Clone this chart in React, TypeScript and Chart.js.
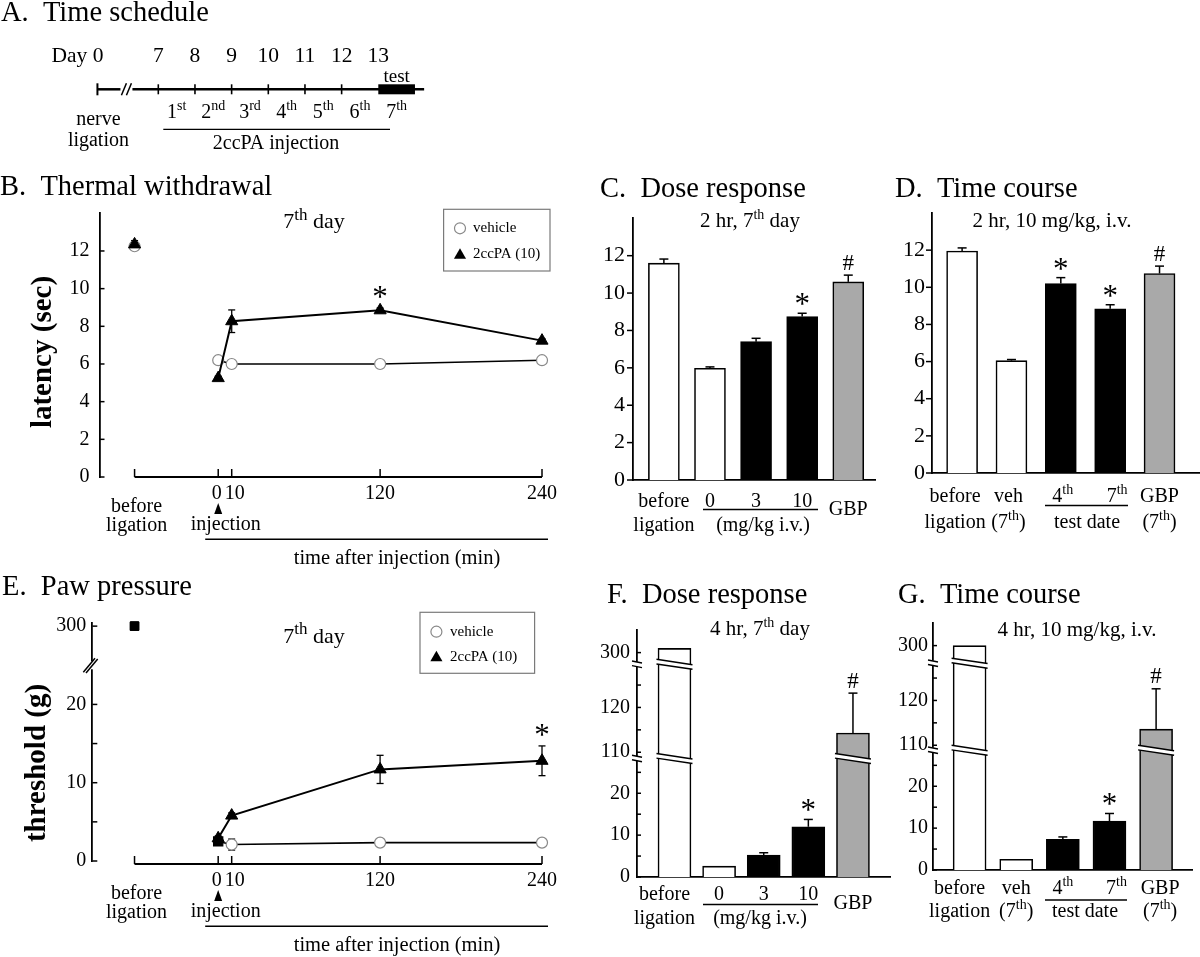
import React, { useEffect, useRef } from 'react';
import { Chart, registerables } from 'chart.js';

Chart.register(...registerables);

const FONT = "'Liberation Serif', 'Times New Roman', Times, serif";
const PAGE_W = 1200;
const PAGE_H = 957;
const AXIS_W = 40;

/* ---------------- A. time schedule ---------------- */
const scheduleDays = [0, 7, 8, 9, 10, 11, 12, 13];
const scheduleDayLabels = ['Day 0', '7', '8', '9', '10', '11', '12', '13'];
const injectionNumbers = ['1', '2', '3', '4', '5', '6', '7'];
const injectionSuffixes = ['st', 'nd', 'rd', 'th', 'th', 'th', 'th'];
const testDays = [13, 14];

/* ---------------- B / E line panels ---------------- */
const timePoints = [0, 10, 120, 240];
const timeTickLabels = ['0', '10', '120', '240'];
const legendLabels = ['vehicle', '2ccPA (10)'];

const bVehicle = [6.2, 6.0, 6.0, 6.2];
const bVehicleErr = [0.08, 0.08, 0.08, 0.08];
const bDrug = [5.25, 8.27, 8.85, 7.24];
const bDrugErr = [0.1, 0.6, 0.12, 0.1];
const bBefore = [12.25, 12.35];
const bBeforeErr = [0.2, 0.2];
const bMarks = ['', '', '*', ''];
const bYTicks = [0, 2, 4, 6, 8, 10, 12];
const bYTickLabels = ['0', '2', '4', '6', '8', '10', '12'];

const eVehicle = [2.5, 2.1, 2.35, 2.35];
const eVehicleErr = [0.2, 0.7, 0.15, 0.15];
const eDrug = [2.9, 5.8, 11.7, 12.8];
const eDrugErr = [0.3, 0.35, 1.8, 1.9];
const eBefore = [300, 300];
const eBeforeErr = [2, 2];
const eMarks = ['', '', '', '*'];
const eYTicks = [0, 5, 10, 15, 20, 300];
const eYTickLabels = ['0', '', '10', '', '20', '300'];

/* ---------------- bar panels ---------------- */
const barYTicks = [0, 2, 4, 6, 8, 10, 12];
const barYTickLabels = ['0', '2', '4', '6', '8', '10', '12'];
const brokenYTicks = [0, 5, 10, 15, 20, 25, 110, 115, 120, 125, 300];
const brokenYTickLabels = ['0', '', '10', '', '20', '', '110', '', '120', '', '300'];

const doseTop = ['before', '0', '3', '10', 'GBP'];
const doseBottom = ['ligation', '', '', '', ''];
const doseGroups = ['control', 'vehicle', '2ccPA', '2ccPA', 'GBP'];
const doseGroupLabel = '(mg/kg i.v.)';

const courseTop = ['before', 'veh', '4^{th}', '7^{th}', 'GBP'];
const courseBottom = ['ligation', '(7^{th})', '', '', '(7^{th})'];
const courseGroups = ['control', 'vehicle', '2ccPA', '2ccPA', 'GBP'];
const courseGroupLabel = 'test date';

const cValues = [11.6, 5.98, 7.4, 8.74, 10.6];
const cErrors = [0.22, 0.07, 0.18, 0.18, 0.36];
const cMarks = ['', '', '', '*', '#'];

const dValues = [11.95, 6.05, 10.2, 8.84, 10.74];
const dErrors = [0.17, 0.06, 0.32, 0.22, 0.4];
const dMarks = ['', '', '*', '*', '#'];

const fValues = [301, 2.6, 5.25, 12.0, 114.3];
const fErrors = [0, 0, 0.55, 1.75, 8.9];
const fMarks = ['', '', '', '*', '#'];

const gValues = [300, 2.55, 7.3, 11.7, 113.6];
const gErrors = [0, 0, 0.6, 1.8, 9.0];
const gMarks = ['', '', '', '*', '#'];

/* ---------------- styles / layout ---------------- */
const GROUP_COLORS: Record<string, string> = {
  control: '#ffffff',
  vehicle: '#ffffff',
  '2ccPA': '#000000',
  GBP: '#a9a9a9',
};
const BEFORE_X = -62; // x position of the "before ligation" column (min scale)
const DAY0_POS = 5.34; // compressed position of day 0 on the schedule axis
const TIME_LABEL_DX = [-1.5, 3, 0, 0];

const identity = (v: number) => v;
const ePos = (v: number) => (v > 100 ? 30 + (v - 300) * 0.1 : v);
const brokenPos = (v: number) => (v <= 28 ? v : v < 200 ? 29.8 + (v - 110) * 1.07 : 53.6 + (v - 300));

/* ---------------- drawing helpers ---------------- */
type Part = [string, boolean];
function setFont(ctx: any, size: number, bold = false) {
  ctx.font = `${bold ? 'bold ' : ''}${size}px ${FONT}`;
}
function parts(s: string): Part[] {
  const out: Part[] = [];
  const re = /\^\{([^}]*)\}/g;
  let last = 0;
  let m: any;
  while ((m = re.exec(s))) {
    if (m.index > last) out.push([s.slice(last, m.index), false]);
    out.push([m[1], true]);
    last = m.index + m[0].length;
  }
  if (last < s.length) out.push([s.slice(last), false]);
  return out;
}
function rich(ctx: any, s: string, x: number, y: number, size: number, align = 'center', opts: any = {}) {
  const ps = parts(s);
  const supSize = Math.round(size * (opts.supScale ?? 0.68));
  ctx.save();
  ctx.fillStyle = '#000';
  ctx.textBaseline = opts.baseline ?? 'alphabetic';
  ctx.textAlign = 'left';
  const ws = ps.map(([t, sp]) => {
    setFont(ctx, sp ? supSize : size, opts.bold);
    return ctx.measureText(t).width;
  });
  const total = ws.reduce((a, b) => a + b, 0);
  let cx = align === 'center' ? x - total / 2 : align === 'right' ? x - total : x;
  ps.forEach(([t, sp], i) => {
    setFont(ctx, sp ? supSize : size, opts.bold);
    ctx.fillText(t, cx, sp ? y - size * 0.4 : y);
    cx += ws[i];
  });
  ctx.restore();
}
function line(ctx: any, x1: number, y1: number, x2: number, y2: number, w = 1.5, color = '#000') {
  ctx.save();
  ctx.strokeStyle = color;
  ctx.lineWidth = w;
  ctx.beginPath();
  ctx.moveTo(x1, y1);
  ctx.lineTo(x2, y2);
  ctx.stroke();
  ctx.restore();
}
function triMarker(ctx: any, x: number, y: number, r: number) {
  ctx.save();
  ctx.fillStyle = '#000';
  ctx.beginPath();
  ctx.moveTo(x, y - r);
  ctx.lineTo(x + r * 0.866, y + r / 2);
  ctx.lineTo(x - r * 0.866, y + r / 2);
  ctx.closePath();
  ctx.fill();
  ctx.restore();
}
function circMarker(ctx: any, x: number, y: number, r: number) {
  ctx.save();
  ctx.fillStyle = '#fff';
  ctx.strokeStyle = '#888';
  ctx.lineWidth = 1.2;
  ctx.beginPath();
  ctx.arc(x, y, r, 0, Math.PI * 2);
  ctx.fill();
  ctx.stroke();
  ctx.restore();
}
function sigMark(ctx: any, m: string, x: number, yRef: number) {
  if (m === '*') rich(ctx, '*', x, yRef + 1, 31);
  else if (m === '#') rich(ctx, '#', x, yRef - 5.5, 23);
}
function barBreak(ctx: any, xl: number, xr: number, yb: number) {
  const s = 0.15;
  const g = 2.3;
  const xc = (xl + xr) / 2;
  const a = xl - 1.5;
  const b = xr + 1.5;
  const yAt = (x: number, off: number) => yb + off + s * (x - xc);
  ctx.save();
  ctx.fillStyle = '#fff';
  ctx.beginPath();
  ctx.moveTo(a, yAt(a, -g));
  ctx.lineTo(b, yAt(b, -g));
  ctx.lineTo(b, yAt(b, g));
  ctx.lineTo(a, yAt(a, g));
  ctx.closePath();
  ctx.fill();
  ctx.restore();
  line(ctx, a, yAt(a, -g), b, yAt(b, -g), 1.5);
  line(ctx, a, yAt(a, g), b, yAt(b, g), 1.5);
}
function axisBreak(ctx: any, x: number, yb: number) {
  ctx.save();
  ctx.fillStyle = '#fff';
  ctx.fillRect(x - 3, yb - 2.5, 6, 5);
  ctx.restore();
  line(ctx, x - 5, yb - 3.3, x + 5, yb - 1.3, 1.5);
  line(ctx, x - 5, yb + 1.3, x + 5, yb + 3.3, 1.5);
}
function slashBreak(ctx: any, x: number, yb: number) {
  ctx.save();
  ctx.fillStyle = '#fff';
  ctx.fillRect(x - 3, yb - 4, 6, 8);
  ctx.restore();
  line(ctx, x - 9, yb + 7, x + 2.7, yb - 7, 1.5);
  line(ctx, x - 6.3, yb + 7.7, x + 5.4, yb - 6.3, 1.5);
}

/* ---------------- chart option helpers ---------------- */
const common = () => ({
  responsive: false,
  maintainAspectRatio: false,
  animation: false,
  devicePixelRatio: 1,
  events: [],
  plugins: { legend: { display: false }, tooltip: { enabled: false }, title: { display: false } },
});
function padFor(L: number, T: number, R: number, B: number) {
  return { left: L - AXIS_W, top: T, right: PAGE_W - R, bottom: PAGE_H - B };
}
function yAxisOpts(max: number, tickVals: number[], tickLabels: string[], padding: number, size = 20) {
  return {
    type: 'linear',
    position: 'left',
    min: 0,
    max,
    afterBuildTicks: (s: any) => {
      s.ticks = tickVals.map((v) => ({ value: v }));
    },
    afterFit: (s: any) => {
      s.width = AXIS_W;
    },
    ticks: {
      autoSkip: false,
      padding,
      color: '#000',
      font: { family: FONT, size },
      callback: (_v: any, i: number) => tickLabels[i],
    },
    grid: { display: false, drawTicks: false },
    border: { display: true, color: '#000', width: 1.8 },
  };
}
function xAxisOpts(min: number, max: number, border: boolean) {
  return {
    type: 'linear',
    position: 'bottom',
    min,
    max,
    offset: false,
    afterFit: (s: any) => {
      s.height = 0;
    },
    ticks: { display: false },
    grid: { display: false, drawTicks: false, offset: false },
    border: { display: border, color: '#000', width: 1.8 },
  };
}

/* ---------------- A ---------------- */
function makeA() {
  const L = 48.3;
  const R = 433.3;
  const T = 79.3;
  const B = 99.3;
  const drawA = (chart: any) => {
    const { ctx } = chart;
    const xs = chart.scales.x;
    const ys = chart.scales.y;
    const y0 = ys.getPixelForValue(0);
    const px = (d: number) => xs.getPixelForValue(d === 0 ? DAY0_POS : d);
    const x0 = px(0);
    rich(ctx, 'A.  Time schedule', 1, 21, 28.5, 'left');
    line(ctx, x0, y0, x0 + 23, y0, 2.5);
    line(ctx, x0 + 35, y0, xs.getPixelForValue(14.25), y0, 2.5);
    line(ctx, x0, y0 - 6, x0, y0 + 6, 2);
    line(ctx, x0 + 24, y0 + 6, x0 + 29, y0 - 6, 1.5);
    line(ctx, x0 + 29, y0 + 6, x0 + 34, y0 - 6, 1.5);
    ctx.save();
    ctx.fillStyle = '#000';
    ctx.fillRect(px(testDays[0]), y0 - 5, px(testDays[1]) - px(testDays[0]), 10);
    ctx.restore();
    scheduleDays.forEach((d, i) => {
      if (d === 0) rich(ctx, scheduleDayLabels[i], px(d) + 6, 61.7, 21.5, 'right');
      else rich(ctx, scheduleDayLabels[i], px(d), 61.7, 21.5);
    });
    rich(ctx, 'test', px((testDays[0] + testDays[1]) / 2), 81.7, 19);
    injectionNumbers.forEach((n, k) => {
      rich(ctx, `${n}^{${injectionSuffixes[k]}}`, px(7.5 + k), 118.3, 20);
    });
    line(ctx, 163.3, 129.3, 390, 129.3, 1.3);
    rich(ctx, '2ccPA injection', 276, 149, 20);
    rich(ctx, 'nerve', x0 + 1, 125, 20);
    rich(ctx, 'ligation', x0 + 1, 145.5, 20);
  };
  return {
    type: 'scatter',
    data: {
      datasets: [
        {
          data: scheduleDays.filter((d) => d >= 7 && d < testDays[0]).map((d) => ({ x: d, y: 0 })),
          pointStyle: 'line',
          pointRotation: 90,
          pointRadius: 5,
          pointBorderColor: '#000',
          pointBorderWidth: 1.6,
          clip: false,
        },
      ],
    },
    options: {
      ...common(),
      layout: { padding: { left: L, right: PAGE_W - R, top: T, bottom: PAGE_H - B } },
      scales: {
        x: { type: 'linear', display: false, min: 4, max: 14.5 },
        y: { type: 'linear', display: false, min: -1, max: 1 },
      },
    },
    plugins: [{ id: 'schedule', afterDatasetsDraw: drawA }],
  };
}

/* ---------------- B / E ---------------- */
function makeLinePanel(s: any) {
  const tri = { pointStyle: 'triangle', pointRadius: 7, pointBackgroundColor: '#000', pointBorderColor: '#000', pointBorderWidth: 1 };
  const circ = { pointStyle: 'circle', pointRadius: 5.5, pointBackgroundColor: '#fff', pointBorderColor: '#888', pointBorderWidth: 1.2 };
  const sq = { pointStyle: 'rect', pointRadius: 6, pointBackgroundColor: '#000', pointBorderColor: '#000', pointBorderWidth: 1 };
  const vehStyle = s.squareStart
    ? {
        ...circ,
        pointStyle: (c: any) => (c.dataIndex === 0 ? 'rect' : 'circle'),
        pointBackgroundColor: (c: any) => (c.dataIndex === 0 ? '#000' : '#fff'),
        pointBorderColor: (c: any) => (c.dataIndex === 0 ? '#000' : '#888'),
        pointRadius: (c: any) => (c.dataIndex === 0 ? 6.5 : 5.5),
      }
    : circ;
  const datasets = [
    { data: s.drug.map((v: number, i: number) => ({ x: timePoints[i], y: s.tf(v) })), borderColor: '#000', borderWidth: 2, ...tri, clip: false },
    { data: [{ x: BEFORE_X, y: s.tf(s.before[1]) }], showLine: false, ...(s.squareStart ? sq : tri), clip: false },
    { data: s.vehicle.map((v: number, i: number) => ({ x: timePoints[i], y: s.tf(v) })), borderColor: '#000', borderWidth: 1.6, ...vehStyle, clip: false },
    { data: [{ x: BEFORE_X, y: s.tf(s.before[0]) }], showLine: false, ...(s.squareStart ? sq : circ), clip: false },
  ];
  const drawErrors = (chart: any) => {
    const { ctx } = chart;
    const xs = chart.scales.x;
    const ys = chart.scales.y;
    const eb = (xv: number, v: number, e: number) => {
      if (!e) return;
      const x = xs.getPixelForValue(xv);
      const yh = ys.getPixelForValue(s.tf(v + e));
      const yl = ys.getPixelForValue(s.tf(v - e));
      line(ctx, x, yh, x, yl, 1.3);
      line(ctx, x - 3.5, yh, x + 3.5, yh, 1.3);
      line(ctx, x - 3.5, yl, x + 3.5, yl, 1.3);
    };
    s.vehicle.forEach((v: number, i: number) => eb(timePoints[i], v, s.vehicleErr[i]));
    s.drug.forEach((v: number, i: number) => eb(timePoints[i], v, s.drugErr[i]));
    s.before.forEach((v: number, i: number) => eb(BEFORE_X, v, s.beforeErr[i]));
  };
  const drawDeco = (chart: any) => {
    const { ctx, chartArea } = chart;
    const xs = chart.scales.x;
    const ys = chart.scales.y;
    const L = chartArea.left;
    rich(ctx, s.title, s.titleX, s.titleY, 28.5, 'left');
    ctx.save();
    ctx.translate(s.yLabelX, s.yLabelY);
    ctx.rotate(-Math.PI / 2);
    setFont(ctx, 29, true);
    ctx.fillStyle = '#000';
    ctx.textAlign = 'center';
    ctx.textBaseline = 'middle';
    ctx.fillText(s.yLabel, 0, 0);
    ctx.restore();
    s.yTicks.forEach((v: number) => {
      const y = ys.getPixelForValue(s.tf(v));
      line(ctx, L, y, L + 5, y, 1.5);
    });
    if (s.yBreak != null) slashBreak(ctx, L, ys.getPixelForValue(s.yBreak));
    const y0 = ys.getPixelForValue(0) + s.xAxisDy;
    const xb = xs.getPixelForValue(BEFORE_X);
    const xz = xs.getPixelForValue(0);
    const xe = xs.getPixelForValue(timePoints[timePoints.length - 1]);
    line(ctx, xb, y0, xe, y0, 1.8);
    [BEFORE_X, ...timePoints].forEach((t) => {
      const x = xs.getPixelForValue(t);
      line(ctx, x, y0, x, y0 - 8, 1.5);
    });
    timePoints.forEach((t, i) => rich(ctx, timeTickLabels[i], xs.getPixelForValue(t) + TIME_LABEL_DX[i], y0 + 21.5, 20));
    rich(ctx, 'before', xb + 2, y0 + 35, 20);
    rich(ctx, 'ligation', xb + 2, y0 + 54.3, 20);
    ctx.save();
    ctx.fillStyle = '#000';
    ctx.beginPath();
    ctx.moveTo(xz, y0 + 26);
    ctx.lineTo(xz + 4, y0 + 37);
    ctx.lineTo(xz - 4, y0 + 37);
    ctx.closePath();
    ctx.fill();
    ctx.restore();
    rich(ctx, 'injection', xz + 7.5, y0 + 53, 20);
    line(ctx, xz - 13, y0 + 62.3, xe + 6, y0 + 62.3, 1.5);
    rich(ctx, 'time after injection (min)', 397, y0 + 86.6, 20.5);
    rich(ctx, '7^{th} day', 314, s.dayY, 22, 'center', { supScale: 0.75 });
    const [lx1, ly1, lx2, ly2, mx, tx, r1, r2] = s.legend;
    ctx.save();
    ctx.strokeStyle = '#7a7a7a';
    ctx.lineWidth = 1.2;
    ctx.strokeRect(lx1, ly1, lx2 - lx1, ly2 - ly1);
    ctx.restore();
    circMarker(ctx, mx, r1, 5.5);
    triMarker(ctx, mx, r2 + 1, 7);
    rich(ctx, legendLabels[0], tx, r1, 15, 'left', { baseline: 'middle' });
    rich(ctx, legendLabels[1], tx, r2, 15, 'left', { baseline: 'middle' });
    s.marks.forEach((m: string, i: number) => {
      if (!m) return;
      const v = s.drug[i] + s.drugErr[i];
      sigMark(ctx, m, xs.getPixelForValue(timePoints[i]), ys.getPixelForValue(s.tf(v)) - 2);
    });
  };
  return {
    type: 'line',
    data: { datasets },
    options: {
      ...common(),
      layout: { padding: padFor(s.L, s.T, s.R, s.B) },
      scales: {
        x: xAxisOpts(s.xMin, s.xMax, false),
        y: yAxisOpts(s.yMax, s.yTicks.map(s.tf), s.yTickLabels, s.labelPad),
      },
    },
    plugins: [
      { id: 'errs', beforeDatasetsDraw: drawErrors },
      { id: 'deco', afterDraw: drawDeco },
    ],
  };
}

function makeB() {
  return makeLinePanel({
    L: 99.5, T: 213.3, R: 542, B: 477, xMin: -88, xMax: 240, yMax: 14, labelPad: 10,
    tf: identity, yTicks: bYTicks, yTickLabels: bYTickLabels, yBreak: null, xAxisDy: 0,
    vehicle: bVehicle, vehicleErr: bVehicleErr, drug: bDrug, drugErr: bDrugErr,
    before: bBefore, beforeErr: bBeforeErr, marks: bMarks, squareStart: false,
    title: 'B.  Thermal withdrawal', titleX: 0, titleY: 195,
    yLabel: 'latency (sec)', yLabelX: 44, yLabelY: 352,
    dayY: 228.3, legend: [443.6, 209.3, 550, 271, 460, 473, 228.3, 254.3],
  });
}
function makeE() {
  return makeLinePanel({
    L: 92.3, T: 623, R: 542, B: 861, xMin: -93.3, xMax: 240, yMax: 30.4, labelPad: 6,
    tf: ePos, yTicks: eYTicks, yTickLabels: eYTickLabels, yBreak: 25, xAxisDy: 3,
    vehicle: eVehicle, vehicleErr: eVehicleErr, drug: eDrug, drugErr: eDrugErr,
    before: eBefore, beforeErr: eBeforeErr, marks: eMarks, squareStart: true,
    title: 'E.  Paw pressure', titleX: 2, titleY: 595,
    yLabel: 'threshold (g)', yLabelX: 38, yLabelY: 763,
    dayY: 643, legend: [420, 612.3, 534.6, 673.3, 436.4, 450, 631.7, 656.7],
  });
}

/* ---------------- bar panels ---------------- */
function makeBarPanel(s: any) {
  const drawDeco = (chart: any) => {
    const { ctx, chartArea } = chart;
    const xs = chart.scales.x;
    const ys = chart.scales.y;
    const L = chartArea.left;
    const meta = chart.getDatasetMeta(0);
    s.yTicks.forEach((v: number) => {
      const y = ys.getPixelForValue(s.tf(v));
      line(ctx, L, y, L + s.tickDir * s.tickLen, y, 1.5);
    });
    s.breaks.forEach((pb: number) => {
      const yb = ys.getPixelForValue(pb);
      meta.data.forEach((bar: any, i: number) => {
        if (s.tf(s.values[i]) > pb + 0.5) barBreak(ctx, bar.x - bar.width / 2, bar.x + bar.width / 2, yb);
      });
      axisBreak(ctx, L, yb);
    });
    s.values.forEach((v: number, i: number) => {
      const x = xs.getPixelForValue(i);
      let ref = ys.getPixelForValue(s.tf(v));
      if (s.errors[i] > 0) {
        const ye = ys.getPixelForValue(s.tf(v + s.errors[i]));
        line(ctx, x, ref, x, ye, 1.5);
        line(ctx, x - 4.5, ye, x + 4.5, ye, 1.5);
        ref = ye;
      }
      if (s.marks[i]) sigMark(ctx, s.marks[i], x, ref);
    });
    rich(ctx, s.title, s.titleX, s.titleY, 28.5, 'left');
    rich(ctx, s.sub, s.subX, s.subY, 21);
    s.top.forEach((t: string, i: number) => {
      const x = xs.getPixelForValue(i) + s.labelDx[i];
      const single = !s.bottom[i] && !s.groupIdx.includes(i);
      rich(ctx, t, x, single ? s.singleY : s.row1Y, 20);
      if (s.bottom[i]) rich(ctx, s.bottom[i], x, s.row2Y, 20);
    });
    const [ux1, ux2, uy] = s.underline;
    line(ctx, ux1, uy, ux2, uy, 1.3);
    rich(ctx, s.groupLabel, s.groupX, s.row2Y, 20);
  };
  return {
    type: 'bar',
    data: {
      datasets: [
        {
          data: s.values.map((v: number, i: number) => ({ x: i, y: s.tf(v) })),
          backgroundColor: s.groups.map((g: string) => GROUP_COLORS[g]),
          borderColor: '#000',
          borderWidth: 1.6,
          borderSkipped: 'bottom',
          barThickness: s.thickness,
        },
      ],
    },
    options: {
      ...common(),
      layout: { padding: padFor(s.L, s.T, s.R, s.B) },
      scales: {
        x: xAxisOpts(s.xMin, s.xMax, true),
        y: yAxisOpts(s.yMax, s.yTicks.map(s.tf), s.yTickLabels, s.labelPad, s.tickFont),
      },
    },
    plugins: [{ id: 'deco', afterDraw: drawDeco }],
  };
}

function makeC() {
  return makeBarPanel({
    L: 633, T: 218.3, R: 875, B: 480, xMin: -0.67, xMax: 4.58, yMax: 14, labelPad: 8, tickDir: -1, tickLen: 6, thickness: 31, tickFont: 22,
    tf: identity, yTicks: barYTicks, yTickLabels: barYTickLabels, breaks: [],
    values: cValues, errors: cErrors, marks: cMarks, groups: doseGroups,
    title: 'C.  Dose response', titleX: 600, titleY: 196.7, sub: '2 hr, 7^{th} day', subX: 750, subY: 227,
    top: doseTop, bottom: doseBottom, groupIdx: [1, 2, 3], labelDx: [0, 0, 0, 0, 0],
    row1Y: 506.5, row2Y: 531, singleY: 514.5, underline: [703, 818, 509.5], groupLabel: doseGroupLabel, groupX: 763,
  });
}
function makeD() {
  return makeBarPanel({
    L: 932, T: 213, R: 1200, B: 473, xMin: -0.61, xMax: 4.82, yMax: 14, labelPad: 7, tickDir: -1, tickLen: 6, thickness: 31, tickFont: 22,
    tf: identity, yTicks: barYTicks, yTickLabels: barYTickLabels, breaks: [],
    values: dValues, errors: dErrors, marks: dMarks, groups: courseGroups,
    title: 'D.  Time course', titleX: 895, titleY: 196.7, sub: '2 hr, 10 mg/kg, i.v.', subX: 1052, subY: 227,
    top: courseTop, bottom: courseBottom, groupIdx: [2, 3], labelDx: [-7, -3, 2, 7, 0],
    row1Y: 502, row2Y: 527.5, singleY: 502, underline: [1045, 1128, 505.5], groupLabel: courseGroupLabel, groupX: 1087,
  });
}
function makeF() {
  return makeBarPanel({
    L: 637, T: 630, R: 890, B: 877, xMin: -0.84, xMax: 4.83, yMax: 59, labelPad: 7, tickDir: 1, tickLen: 4, thickness: 33, tickFont: 20,
    tf: brokenPos, yTicks: brokenYTicks, yTickLabels: brokenYTickLabels, breaks: [28.3, 50.8],
    values: fValues, errors: fErrors, marks: fMarks, groups: doseGroups,
    title: 'F.  Dose response', titleX: 607, titleY: 603.3, sub: '4 hr, 7^{th} day', subX: 760, subY: 635,
    top: doseTop, bottom: doseBottom, groupIdx: [1, 2, 3], labelDx: [-10, 0, 0, 0, 0],
    row1Y: 900, row2Y: 923.5, singleY: 909, underline: [703, 818, 904.5], groupLabel: doseGroupLabel, groupX: 760,
  });
}
function makeG() {
  return makeBarPanel({
    L: 933, T: 623, R: 1192, B: 870, xMin: -0.785, xMax: 4.77, yMax: 59, labelPad: 5, tickDir: 1, tickLen: 4, thickness: 33, tickFont: 20,
    tf: brokenPos, yTicks: brokenYTicks, yTickLabels: brokenYTickLabels, breaks: [28.6, 49.4],
    values: gValues, errors: gErrors, marks: gMarks, groups: courseGroups,
    title: 'G.  Time course', titleX: 898, titleY: 602.7, sub: '4 hr, 10 mg/kg, i.v.', subX: 1077, subY: 636,
    top: courseTop, bottom: courseBottom, groupIdx: [2, 3], labelDx: [-10, 0, 0, 7, 4],
    row1Y: 894, row2Y: 917, singleY: 894, underline: [1045, 1127, 900], groupLabel: courseGroupLabel, groupX: 1085,
  });
}

/* ---------------- React ---------------- */
function Layer({ build }: { build: () => any }) {
  const ref = useRef<HTMLCanvasElement | null>(null);
  useEffect(() => {
    if (!ref.current) return undefined;
    const chart = new Chart(ref.current, build() as any);
    return () => chart.destroy();
  }, [build]);
  return (
    <canvas
      ref={ref}
      width={PAGE_W}
      height={PAGE_H}
      style={{ position: 'absolute', left: 0, top: 0, width: PAGE_W, height: PAGE_H }}
    />
  );
}

const BUILDERS = [makeA, makeB, makeC, makeD, makeE, makeF, makeG];

export default function App() {
  return (
    <div
      style={{
        position: 'fixed',
        left: 0,
        top: 0,
        width: PAGE_W,
        height: PAGE_H,
        background: '#fff',
        overflow: 'hidden',
      }}
    >
      {BUILDERS.map((b, i) => (
        <Layer key={i} build={b} />
      ))}
    </div>
  );
}
